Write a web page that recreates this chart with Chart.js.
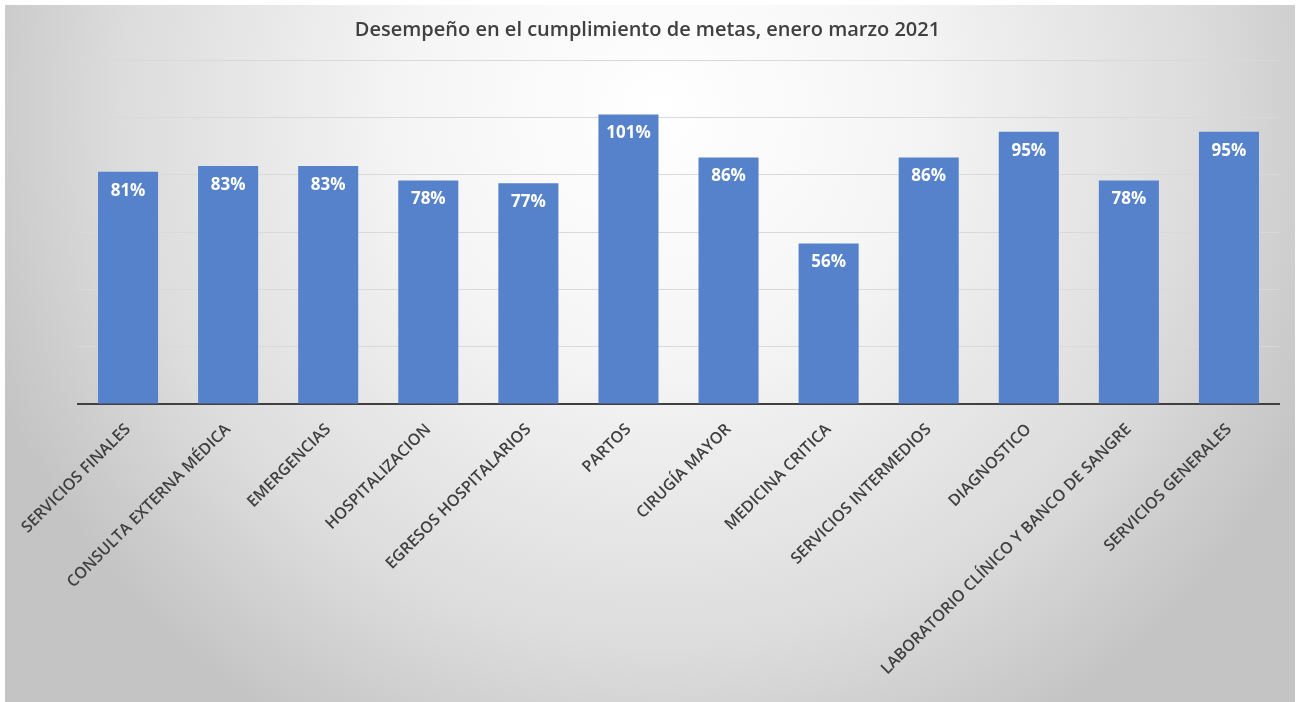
<!DOCTYPE html>
<html lang="es">
<head>
<meta charset="UTF-8">
<title>Desempeño en el cumplimiento de metas</title>
<script src="https://cdn.jsdelivr.net/npm/chart.js@4.4.1/dist/chart.umd.min.js"></script>
<style>
  html, body { margin: 0; padding: 0; background: #ffffff; }
  #contenedor { width: 1303px; height: 702px; position: relative; }
</style>
</head>
<body>
<div id="contenedor">
  <canvas id="metasChart"></canvas>
</div>
<script>
// Datos del gráfico
const titulo = 'Desempeño en el cumplimiento de metas, enero marzo 2021';
const categorias = [
    'SERVICIOS FINALES',
    'CONSULTA EXTERNA MÉDICA',
    'EMERGENCIAS',
    'HOSPITALIZACION',
    'EGRESOS HOSPITALARIOS',
    'PARTOS',
    'CIRUGÍA MAYOR',
    'MEDICINA CRITICA',
    'SERVICIOS INTERMEDIOS',
    'DIAGNOSTICO',
    'LABORATORIO CLÍNICO Y BANCO DE SANGRE',
    'SERVICIOS GENERALES'
];
const cumplimiento = [81, 83, 83, 78, 77, 101, 86, 56, 86, 95, 78, 95]; // porcentaje
const marcasEje = [0, 20, 40, 60, 80, 100, 120]; // lineas de la cuadricula (sin texto)

// Fondo con degradado gris como en el original
const fondoPlugin = {
    id: 'fondo',
    beforeDraw(chart) {
        const { ctx, width, height } = chart;
        ctx.save();
        ctx.fillStyle = '#ffffff';
        ctx.fillRect(0, 0, width, height);
        const grad = ctx.createRadialGradient(660, 110, 0, 660, 110, 720);
        grad.addColorStop(0, '#ffffff');
        grad.addColorStop(0.35, '#f5f5f5');
        grad.addColorStop(0.75, '#dcdcdc');
        grad.addColorStop(1, '#c4c4c4');
        ctx.fillStyle = grad;
        ctx.fillRect(5, 5, 1290, 697);
        ctx.restore();
    }
};

// Etiquetas de porcentaje dentro de cada barra
const etiquetasPlugin = {
    id: 'etiquetas',
    afterDatasetsDraw(chart) {
        const { ctx } = chart;
        const meta = chart.getDatasetMeta(0);
        ctx.save();
        ctx.fillStyle = '#ffffff';
        ctx.font = 'bold 17px "Open Sans"';
        ctx.textAlign = 'center';
        ctx.textBaseline = 'middle';
        meta.data.forEach((barra, i) => {
            ctx.fillText(cumplimiento[i] + '%', barra.x, barra.y + 19);
        });
        ctx.restore();
    }
};

const ctx = document.getElementById('metasChart').getContext('2d');
new Chart(ctx, {
    type: 'bar',
    data: {
        labels: categorias,
        datasets: [{
            label: 'Cumplimiento',
            data: cumplimiento,
            backgroundColor: '#5681cb',
            borderWidth: 0,
            barPercentage: 0.6,
            categoryPercentage: 1
        }]
    },
    options: {
        responsive: true,
        maintainAspectRatio: false,
        animation: false,
        layout: {
            padding: { top: 5, right: 24, bottom: 0, left: 16 }
        },
        plugins: {
            legend: { display: false },
            tooltip: { enabled: false },
            title: {
                display: true,
                text: titulo,
                color: '#404040',
                font: { family: '"Open Sans"', size: 20, weight: '600' },
                padding: { top: 13, bottom: 18 }
            }
        },
        scales: {
            x: {
                grid: { display: false },
                border: { display: true, color: '#404040', width: 2 },
                ticks: {
                    autoSkip: false,
                    minRotation: 45,
                    maxRotation: 45,
                    padding: 8,
                    color: '#404040',
                    font: { family: '"Open Sans"', size: 16, weight: '600' }
                },
                afterFit(scale) {
                    scale.height = 298;
                    scale.paddingLeft = 0;
                    scale.paddingRight = 0;
                }
            },
            y: {
                min: 0,
                max: 120,
                border: { display: false },
                grid: { color: '#d9d9d9', lineWidth: 1, drawTicks: false },
                ticks: { display: false },
                afterBuildTicks(scale) {
                    scale.ticks = marcasEje.map(v => ({ value: v }));
                },
                afterFit(scale) {
                    scale.width = 62;
                }
            }
        }
    },
    plugins: [fondoPlugin, etiquetasPlugin]
});
</script>
</body>
</html>
